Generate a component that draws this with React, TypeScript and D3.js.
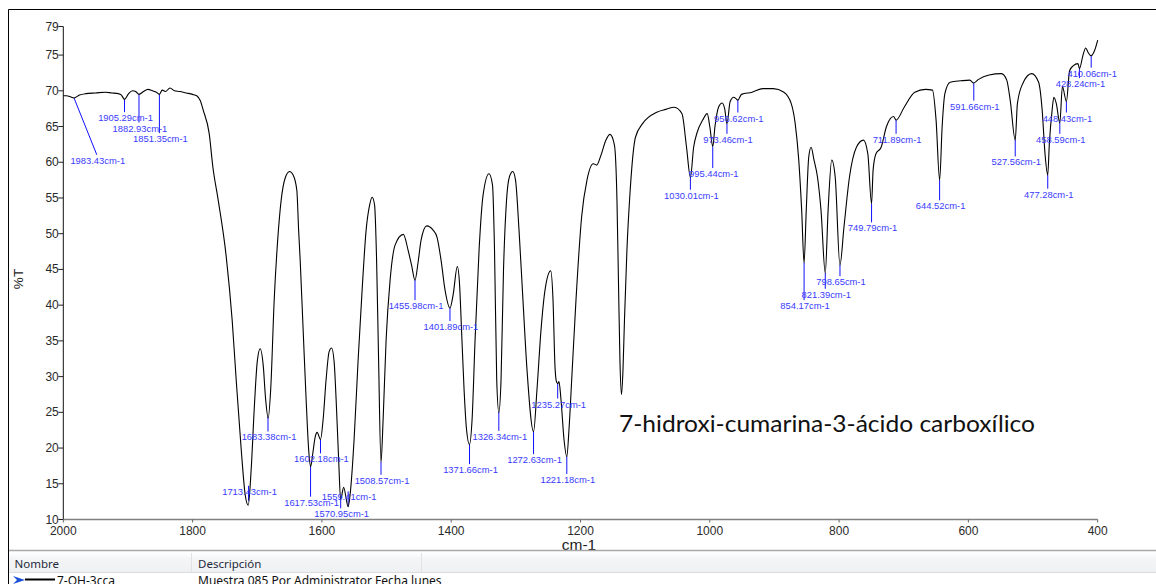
import React from "react";
import * as d3 from "d3";

// Spectrum (wavenumber in cm-1, transmittance in %T)
const wavenumbers = [
  2000, 1995, 1990, 1983.4, 1975, 1965, 1950, 1935, 1925, 1915, 1910, 1905.3, 1899, 1893, 1888, 1882.9,
  1876, 1869, 1862, 1856, 1851.4, 1847, 1842, 1835, 1828, 1820, 1810, 1800, 1793.6, 1788, 1783.6, 1774.3,
  1768.6, 1760.4, 1748, 1738.8, 1732.6, 1724.8, 1718.7, 1714, 1709.4, 1704.7, 1700, 1695.5, 1690.8, 1687,
  1683.1, 1679.2, 1673.8, 1668.4, 1663, 1656.8, 1650, 1644.5, 1638.8, 1636, 1633.6, 1629, 1624.4, 1620.5,
  1617.5, 1614.3, 1610.5, 1607.4, 1602.2, 1598.1, 1593.5, 1588.8, 1585, 1581.1, 1578, 1574.1, 1571, 1566.4,
  1559.4, 1555.6, 1550.2, 1544, 1537.8, 1531.6, 1526.2, 1522.3, 1518.5, 1515.4, 1512.3, 1508.6, 1505.3,
  1500.7, 1494.5, 1486.8, 1474, 1466.7, 1461.3, 1456, 1451.2, 1446.6, 1437.8, 1428, 1421.9, 1415.7, 1409.5,
  1401.9, 1397.1, 1390.5, 1387, 1384, 1380.1, 1376.3, 1371.7, 1367.7, 1363.1, 1356.9, 1350.7, 1341.5,
  1336.1, 1333, 1329.6, 1326.3, 1322.9, 1319.1, 1314.4, 1309.8, 1304.8, 1300.5, 1295.1, 1289, 1282.7,
  1272.6, 1267.3, 1261.1, 1254.9, 1246.1, 1242.5, 1239.5, 1237.5, 1235.3, 1233.3, 1230.2, 1225.5, 1221.2,
  1217.8, 1213.6, 1207, 1198.2, 1190, 1180.3, 1175, 1168.3, 1160.6, 1154.4, 1147.5, 1143.6, 1141.3, 1139,
  1136.6, 1134.3, 1132, 1128.2, 1123.5, 1115, 1104, 1082, 1068, 1055, 1043, 1036, 1030, 1025, 1019.5,
  1011, 1004, 1000, 995.4, 992, 986.5, 981, 977, 973.5, 968.5, 963, 959.5, 956.6, 951, 934.6, 918, 901.7,
  885.4, 874, 867.9, 862.4, 857.9, 854.2, 850.8, 847, 843.3, 838.8, 833.4, 828, 821.4, 817, 811.4, 806,
  798.7, 792.4, 784, 773.2, 762.3, 755.6, 749.8, 747.4, 743, 735, 726.7, 715.8, 711.9, 699.3, 683, 666.4,
  655.6, 650, 644.5, 640.6, 636.4, 628.2, 611.8, 598, 591.7, 584.3, 568, 548.8, 540.7, 535.2, 527.6, 524.2,
  516, 502.2, 491.4, 485.9, 481.5, 477.3, 474.8, 470.5, 467.8, 464, 458.6, 454.6, 448.4, 443.5, 438, 430.5,
  428.2, 423, 418.6, 415, 410.1, 405, 400,
];
const transmittance = [
  69.3, 69.3, 69.2, 69.0, 69.4, 69.6, 69.7, 69.8, 69.7, 69.6, 69.4, 68.8, 69.6, 70.0, 69.9, 69.5,
  69.9, 70.2, 70.0, 69.8, 69.5, 70.1, 69.9, 70.4, 70.0, 69.9, 69.7, 69.5, 69.3, 68.6, 67.3, 64.0,
  59.3, 54.7, 46.8, 37.9, 29.6, 19.8, 13.5, 12.0, 17.0, 25.4, 32.1, 33.9, 31.6, 26.8,
  24.2, 28.2, 40.7, 49.1, 54.7, 57.8, 58.7, 58.2, 56.1, 50.5, 46.3, 36.5, 26.8, 19.8,
  17.4, 19.1, 21.5, 22.2, 21.2, 24.0, 29.6, 33.5, 34.0, 32.1, 26.8, 18.4, 12.8, 14.5,
  11.8, 14.2, 21.2, 32.3, 42.1, 50.5, 54.0, 55.1, 54.0, 46.3, 32.3, 18.0, 24.0,
  35.1, 43.5, 48.4, 49.9, 47.7, 45.6, 43.5, 46.0, 49.1, 51.1, 50.5, 49.5, 46.3, 42.1,
  39.6, 41.4, 45.4, 42.8, 36.5, 28.2, 22.6, 20.5, 24.0, 35.1, 47.7, 55.4, 58.4,
  56.8, 47.7, 29.6, 25.0, 29.6, 44.9, 54.7, 58.0, 58.7, 57.5, 50.5, 40.7, 30.9,
  22.3, 28.2, 36.5, 42.1, 44.8, 40.7, 31.5, 29.4, 29.0, 29.3, 26.8, 21.2, 18.8,
  22.6, 29.6, 40.7, 52.4, 57.5, 59.8, 59.6, 61.0, 63.1, 63.9, 62.4, 54.7, 43.5, 32.3,
  27.5, 30.9, 37.9, 47.7, 55.6, 63.5, 65.4, 67.0, 67.4, 67.7, 66.8, 62.1, 57.9, 62.1, 64.2,
  65.9, 66.8, 65.0, 62.2, 65.0, 67.7, 68.3, 67.5, 65.4, 68.5, 69.1, 68.9, 68.7, 69.5, 69.8, 70.3, 70.3,
  69.8, 68.2, 65.4, 60.3, 53.3, 45.9, 53.3, 60.7, 62.1, 60.3, 57.9, 53.3, 44.5, 53.3, 60.3, 57.9,
  45.6, 51.0, 57.9, 62.1, 63.1, 61.2, 54.2, 58.9, 61.2, 62.1, 65.0, 66.4, 65.9, 67.7, 69.8, 70.2,
  70.1, 65.9, 57.5, 65.0, 69.6, 71.2, 71.4, 71.5, 71.1, 71.6, 72.2, 72.4, 71.5, 68.6, 63.1, 68.2,
  71.0, 72.4, 71.2, 67.3, 61.2, 58.2, 62.6, 67.3, 69.1, 68.2, 65.5, 70.6, 68.5, 72.8, 73.5, 73.8,
  73.1, 74.9, 76.0, 75.4, 74.9, 75.6, 77.1,
];

// Peak picks: wavenumber, the %T level of the label, and the wavenumber under the label
const peakWavenumbers = [
  1983.43, 1905.29, 1882.93, 1851.35, 1713.43, 1683.38, 1617.53, 1602.18, 1570.95, 1559.41, 1508.57,
  1455.98, 1401.89, 1371.66, 1326.34, 1272.63, 1235.27, 1221.18, 1030.01, 995.44, 973.46, 956.62,
  854.17, 821.39, 798.65, 749.79, 711.89, 644.52, 591.66, 527.56, 477.28, 458.59, 448.43, 428.24, 410.06,
];
const peakLabelT = [
  60.28, 66.24, 64.79, 63.31, 13.95, 21.55, 12.42, 18.48, 10.8, 13.17, 15.49,
  39.93, 37.0, 16.98, 21.63, 18.38, 26.16, 15.59, 55.39, 58.42, 63.21, 66.19,
  39.93, 41.52, 43.28, 50.82, 63.21, 53.9, 67.86, 60.04, 55.53, 63.21, 66.19, 71.0, 72.47,
];
const peakLabelWn = [
  1948.2, 1905.29, 1882.93, 1851.35, 1713.43, 1683.38, 1617.53, 1602.18, 1570.95, 1559.41, 1508.57,
  1455.98, 1401.89, 1371.66, 1326.34, 1272.63, 1235.27, 1221.18, 1030.01, 995.44, 973.46, 956.62,
  854.17, 821.39, 798.65, 749.79, 711.89, 644.52, 591.66, 527.56, 477.28, 458.59, 448.43, 428.24, 410.06,
];

const yTicks = [10, 15, 20, 25, 30, 35, 40, 45, 50, 55, 60, 65, 70, 75, 79];
const xTicks = [2000, 1800, 1600, 1400, 1200, 1000, 800, 600, 400];

const sampleName = "7-OH-3cca";
const sampleDescription = "Muestra 085 Por Administrator Fecha lunes";
const chartNote = "7-hidroxi-cumarina-3-ácido carboxílico";

const W = 1156;
const H = 584;
const AX = "'Liberation Sans', Arial, sans-serif";
const UI = "'Noto Sans', 'Open Sans', sans-serif";

function interpT(wn: number): number {
  for (let i = 0; i < wavenumbers.length - 1; i++) {
    const a = wavenumbers[i];
    const b = wavenumbers[i + 1];
    if (wn <= a && wn >= b) {
      const t = (a - wn) / (a - b || 1);
      return transmittance[i] + t * (transmittance[i + 1] - transmittance[i]);
    }
  }
  return transmittance[transmittance.length - 1];
}

export default function App() {
  const x = d3.scaleLinear().domain([2000, 400]).range([63.3, 1097.7]);
  const y = d3.scaleLinear().domain([10, 79]).range([519.5, 26.5]);

  const pts = wavenumbers.map((w, i) => [w, transmittance[i]] as [number, number]);
  const line = d3
    .line<[number, number]>()
    .x((d) => x(d[0]))
    .y((d) => y(d[1]))
    .curve(d3.curveMonotoneX);
  const path = line(pts) || "";

  return (
    <svg
      width={W}
      height={H}
      style={{ position: "absolute", left: 0, top: 0, background: "#fff" }}
    >
      <defs>
        <linearGradient id="hdr" x1="0" y1="0" x2="0" y2="1">
          <stop offset="0" stopColor="#ffffff" />
          <stop offset="0.35" stopColor="#f4f5f7" />
          <stop offset="1" stopColor="#eff0f2" />
        </linearGradient>
      </defs>
      <rect x={0} y={0} width={W} height={H} fill="#fff" />
      {/* outer frame */}
      <line x1={8.5} y1={9.5} x2={W} y2={9.5} stroke="#000" strokeWidth={1} />
      <line x1={8.5} y1={9.5} x2={8.5} y2={H} stroke="#000" strokeWidth={1} />

      {/* axes */}
      <line x1={x(2000)} y1={y(10)} x2={x(2000)} y2={y(79)} stroke="#111" strokeWidth={1} />
      <line x1={x(2000)} y1={y(10)} x2={x(400)} y2={y(10)} stroke="#808080" strokeWidth={1.6} />
      {yTicks.map((t) => (
        <g key={"y" + t}>
          <line x1={x(2000) - 5} x2={x(2000)} y1={y(t)} y2={y(t)} stroke="#222" strokeWidth={1} />
          <text
            x={x(2000) - 4.5}
            y={y(t)}
            textAnchor="end"
            dominantBaseline="central"
            fontFamily={AX}
            fontSize={12}
            fill="#2a2a2a"
          >
            {t}
          </text>
        </g>
      ))}
      {xTicks.map((t) => (
        <g key={"x" + t}>
          <line x1={x(t)} x2={x(t)} y1={y(10)} y2={y(10) + 3} stroke="#666" strokeWidth={1} />
          <text
            x={x(t)}
            y={530.5}
            textAnchor="middle"
            dominantBaseline="central"
            fontFamily={AX}
            fontSize={12}
            fill="#2a2a2a"
          >
            {t}
          </text>
        </g>
      ))}
      <text
        x={579}
        y={544}
        textAnchor="middle"
        dominantBaseline="central"
        fontFamily={AX}
        fontSize={15.5}
        fill="#222"
      >
        cm-1
      </text>
      <text
        transform={`translate(18.5,279) rotate(-90)`}
        textAnchor="middle"
        dominantBaseline="central"
        fontFamily={AX}
        fontSize={13.5}
        fill="#222"
      >
        %T
      </text>

      {/* peak markers */}
      {peakWavenumbers.map((wn, i) => {
        const cx = x(wn);
        const cy = y(interpT(wn));
        const lx = x(peakLabelWn[i]);
        const ly = y(peakLabelT[i]);
        return (
          <g key={"p" + wn}>
            <line x1={cx} y1={cy} x2={lx} y2={ly - 5.5} stroke="#1010ff" strokeWidth={1} />
          </g>
        );
      })}

      {/* spectrum */}
      <path d={path} fill="none" stroke="#000" strokeWidth={1.1} />

      {peakWavenumbers.map((wn, i) => {
        const lx = x(peakLabelWn[i]);
        const ly = y(peakLabelT[i]);
        return (
          <text
            key={"pl" + wn}
            x={lx + 1}
            y={ly}
            textAnchor="middle"
            dominantBaseline="central"
            fontFamily={AX}
            fontSize={9.4}
            fill="#3a3aff"
          >
            {wn.toFixed(2) + "cm-1"}
          </text>
        );
      })}

      {/* note */}
      <text
        x={619}
        y={432}
        fontFamily={"Lato, 'Open Sans', sans-serif"}
        fontSize={23}
        fill="#111"
        textLength={416}
        lengthAdjust="spacingAndGlyphs"
      >
        {chartNote}
      </text>

      {/* bottom list panel */}
      <line x1={9} y1={550.5} x2={W} y2={550.5} stroke="#a8a8a8" strokeWidth={1.5} />
      <rect x={9} y={552} width={W - 9} height={20} fill="url(#hdr)" />
      <line x1={9} y1={572.5} x2={W} y2={572.5} stroke="#dcdcdc" strokeWidth={1} />
      <line x1={191.5} y1={553} x2={191.5} y2={572} stroke="#e2e2e2" strokeWidth={1} />
      <line x1={421.5} y1={553} x2={421.5} y2={572} stroke="#e2e2e2" strokeWidth={1} />
      <text x={14.5} y={563} dominantBaseline="central" fontFamily={UI} fontSize={11.5} fill="#1e2a3a">
        Nombre
      </text>
      <text x={198} y={563} dominantBaseline="central" fontFamily={UI} fontSize={11.5} fill="#1e2a3a">
        Descripción
      </text>
      <path d="M13,576 L25,580 L13,584 L17,580 Z" fill="#1a4fd8" />
      <line x1={25} y1={579.5} x2={55} y2={579.5} stroke="#000" strokeWidth={2} />
      <text x={57} y={585} fontFamily={UI} fontSize={12} fill="#111">
        {sampleName}
      </text>
      <text x={198} y={585} fontFamily={UI} fontSize={12} fill="#111">
        {sampleDescription}
      </text>
    </svg>
  );
}
